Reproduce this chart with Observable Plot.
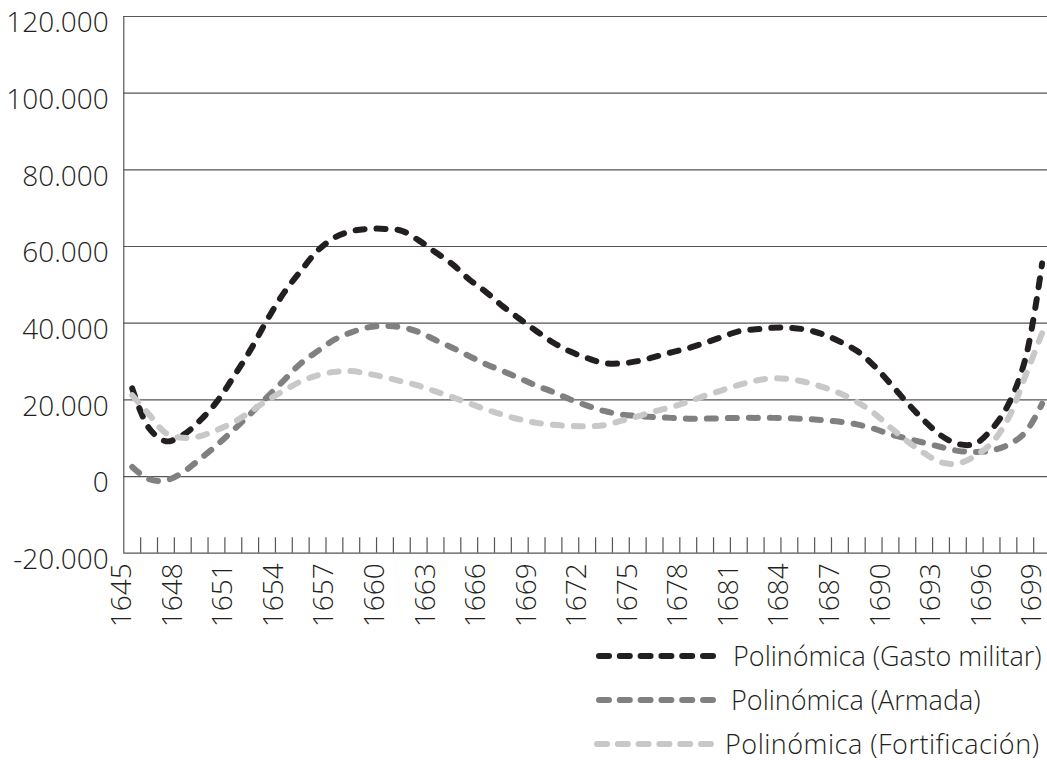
<!DOCTYPE html>
<html>
<head>
<meta charset="utf-8">
<script src="https://cdn.jsdelivr.net/npm/d3@7"></script>
<script src="https://cdn.jsdelivr.net/npm/@observablehq/plot@0.6"></script>
<style>
  html, body { margin: 0; padding: 0; background: #fff; }
  body { font-family: "Open Sans", sans-serif; color: #231f20; }
  #wrap { position: relative; width: 1047px; height: 760px; }
  #legend { position: absolute; left: 0; top: 640px; width: 1047px; height: 120px; }
  .lbl { position: absolute; font-size: 27px; font-weight: 300; line-height: 30px; white-space: nowrap; color: #231f20; }
</style>
</head>
<body>
<div id="wrap">
  <div id="chart"></div>
  <div id="legend"></div>
</div>
<script>
// ---- Data ----
const years = [1645,1646,1647,1648,1649,1650,1651,1652,1653,1654,1655,1656,1657,1658,1659,1660,1661,1662,1663,1664,1665,1666,1667,1668,1669,1670,1671,1672,1673,1674,1675,1676,1677,1678,1679,1680,1681,1682,1683,1684,1685,1686,1687,1688,1689,1690,1691,1692,1693,1694,1695,1696,1697,1698,1699];

const gastoMilitar = [23000,12600,9200,10800,14500,19400,25900,32900,40800,47900,
  53600,58900,62300,64000,64600,64600,64100,61600,58500,55400,
  51400,48100,44400,41100,37900,34900,32600,30900,29600,29500,
  30100,31200,32400,33500,34900,36400,37900,38400,38800,38800,
  38300,37100,35200,32800,29000,24200,19200,14600,10700,8500,
  8500,12300,18800,30600,55600];

const armada = [2500,-700,-1000,1100,4500,8100,12100,16300,20700,25100,
  29500,32700,35700,37600,38900,39300,38900,37700,35600,33600,
  31400,29300,27500,25600,23700,22000,20100,18500,17100,16200,
  15800,15500,15300,15100,15100,15200,15300,15300,15300,15200,
  15000,14700,14300,13600,12500,11000,9900,8800,7700,6700,
  6400,6800,8300,11500,19000];

const fortificacion = [21200,16200,11300,10100,10500,12100,14100,16900,19800,22400,
  24800,26400,27300,27500,26800,25900,24800,23700,22200,20700,
  19100,17500,16100,14900,14000,13500,13200,13100,13400,14500,
  15700,17000,18100,19500,21100,22500,23900,25000,25600,25400,
  24600,23300,21700,19500,16600,12800,9200,6100,3700,3400,
  5300,8700,15200,26200,37400];

const seriesNames = ["Polinómica (Gasto militar)", "Polinómica (Armada)", "Polinómica (Fortificación)"];
const seriesColors = ["#231f20", "#808080", "#c8c8c8"];

const yTicks = [-20000, 0, 20000, 40000, 60000, 80000, 100000, 120000];
const yTickLabels = ["-20.000", "0", "20.000", "40.000", "60.000", "80.000", "100.000", "120.000"];
const xLabelYears = [1645,1648,1651,1654,1657,1660,1663,1666,1669,1672,1675,1678,1681,1684,1687,1690,1693,1696,1699];

// ---- Build ----
const seriesValues = [gastoMilitar, armada, fortificacion];
const tables = seriesValues.map((vals, s) => years.map((yr, i) => ({year: yr, value: vals[i], series: seriesNames[s]})));

// the plot area runs a little past the picture's right edge, so the visible domain stops just short of 1699.5
const xLo = years[0] - 0.5;
const xHi = years[years.length - 1] + 0.32;
const boundaries = years.map(y => y + 0.5).filter(b => b <= xHi);
const yMin = yTicks[0], yMax = yTicks[yTicks.length - 1];

const gridColor = "#555555";

const chart = Plot.plot({
  width: 1047,
  height: 640,
  marginLeft: 0, marginRight: 0, marginTop: 0, marginBottom: 0,
  x: {type: "linear", domain: [xLo, xHi], range: [123.3, 1047], axis: null},
  y: {type: "linear", domain: [yMin, yMax], range: [552.7, 16], axis: null},
  style: {fontFamily: "'Open Sans', sans-serif", color: "#231f20", background: "#fff", overflow: "visible"},
  marks: [
    Plot.ruleY(yTicks, {y: d => d, x1: xLo, x2: xHi, stroke: gridColor, strokeWidth: 1.2}),
    Plot.ruleX([xLo], {y1: yMin, y2: yMax, stroke: gridColor, strokeWidth: 1.2}),
    Plot.ruleX(boundaries, {x: d => d, y1: yMin, y2: yMin + 4020, stroke: gridColor, strokeWidth: 1.2}),
    Plot.text(yTicks, {x: xLo, y: d => d, text: (d, i) => yTickLabels[i], textAnchor: "end", dx: -15, dy: 7, fontSize: 28, fontWeight: 300, fill: "#231f20"}),
    Plot.text(xLabelYears, {x: d => d - 0.5, y: yMin, text: d => String(d), rotate: -90, textAnchor: "end", lineAnchor: "middle", dx: -1.5, dy: 10, fontSize: 28, fontWeight: 300, fill: "#231f20"}),
    ...tables.map((t, s) => Plot.line(t, {x: "year", y: "value", stroke: seriesColors[s], strokeWidth: 6, strokeDasharray: "9,12", strokeLinecap: "round", strokeLinejoin: "round", curve: "catmull-rom"}))
  ]
});
document.getElementById("chart").appendChild(chart);

// ---- Legend ----
const legend = document.getElementById("legend");
const rowCenters = [16, 60, 104];
const textLefts = [733, 731, 725];
const swatchLefts = [590, 590, 588];
const letterSpacings = ["0px", "0px", "0.5px"];
seriesNames.forEach((name, s) => {
  const sw = document.createElementNS("http://www.w3.org/2000/svg", "svg");
  sw.setAttribute("width", 135);
  sw.setAttribute("height", 12);
  sw.style.position = "absolute";
  sw.style.left = swatchLefts[s] + "px";
  sw.style.top = (rowCenters[s] - 6) + "px";
  const ln = document.createElementNS("http://www.w3.org/2000/svg", "line");
  ln.setAttribute("x1", 9); ln.setAttribute("x2", 123);
  ln.setAttribute("y1", 6); ln.setAttribute("y2", 6);
  ln.setAttribute("stroke", seriesColors[s]);
  ln.setAttribute("stroke-width", 6);
  ln.setAttribute("stroke-linecap", "round");
  ln.setAttribute("stroke-dasharray", "10,10.8");
  sw.appendChild(ln);
  legend.appendChild(sw);
  const t = document.createElement("div");
  t.className = "lbl";
  t.textContent = name;
  t.style.left = textLefts[s] + "px";
  t.style.top = (rowCenters[s] - 15) + "px";
  t.style.letterSpacing = letterSpacings[s];
  legend.appendChild(t);
});
</script>
</body>
</html>
